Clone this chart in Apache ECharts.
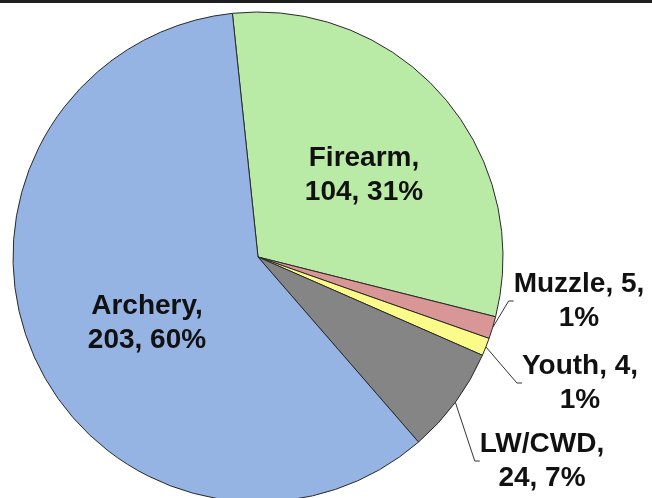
<!DOCTYPE html>
<html><head><meta charset="utf-8">
<script src="https://cdn.jsdelivr.net/npm/echarts@6/dist/echarts.min.js"></script>
<style>html,body{margin:0;padding:0;background:#fff}#c{width:652px;height:498px}</style>
</head><body><div id="c"></div>
<script>
const categories = ['Firearm', 'Muzzle', 'Youth', 'LW/CWD', 'Archery'];
const values = [104, 5, 4, 24, 203];
const colors = ['#b9eba7', '#d99696', '#fbfb8a', '#858585', '#95b3e3'];
const breakAfterName = [true, false, false, true, true];
const insideLabel = [true, false, false, false, true];

// label block centres (layout only)
const labelSpots = [[364, 175], [579, 301], [580, 383], [542, 461], [147, 323]];

const chart = echarts.init(document.getElementById('c'), null, {renderer: 'canvas'});
chart.setOption({
  backgroundColor: '#ffffff',
  animation: false,
  graphic: [{type: 'rect', left: 0, top: 0, shape: {width: 652, height: 3}, style: {fill: '#1e1e1e'}}],
  series: [{
    type: 'pie',
    center: [258, 257],
    radius: 245,
    startAngle: 96,
    clockwise: true,
    avoidLabelOverlap: false,
    itemStyle: {borderColor: '#2a2a2a', borderWidth: 1},
    label: {
      fontFamily: 'Liberation Sans, Arial, sans-serif',
      fontWeight: 'bold',
      fontSize: 28,
      lineHeight: 34,
      color: '#111',
      align: 'center',
      formatter: function (p) {
        const pct = Math.round(p.percent) + '%';
        return breakAfterName[p.dataIndex]
          ? p.name + ',\n' + p.value + ', ' + pct
          : p.name + ', ' + p.value + ',\n' + pct;
      }
    },
    labelLine: {show: true, length: 10, length2: 5, lineStyle: {color: '#333', width: 1}},
    labelLayout: function (p) {
      const s = labelSpots[p.dataIndex];
      return {x: s[0], y: s[1], align: 'center', verticalAlign: 'middle'};
    },
    emphasis: {disabled: true},
    data: categories.map((c, i) => ({
      name: c,
      value: values[i],
      itemStyle: {color: colors[i]},
      label: {position: insideLabel[i] ? 'inside' : 'outside'},
      labelLine: {show: !insideLabel[i]}
    }))
  }]
});
</script>
</body></html>
